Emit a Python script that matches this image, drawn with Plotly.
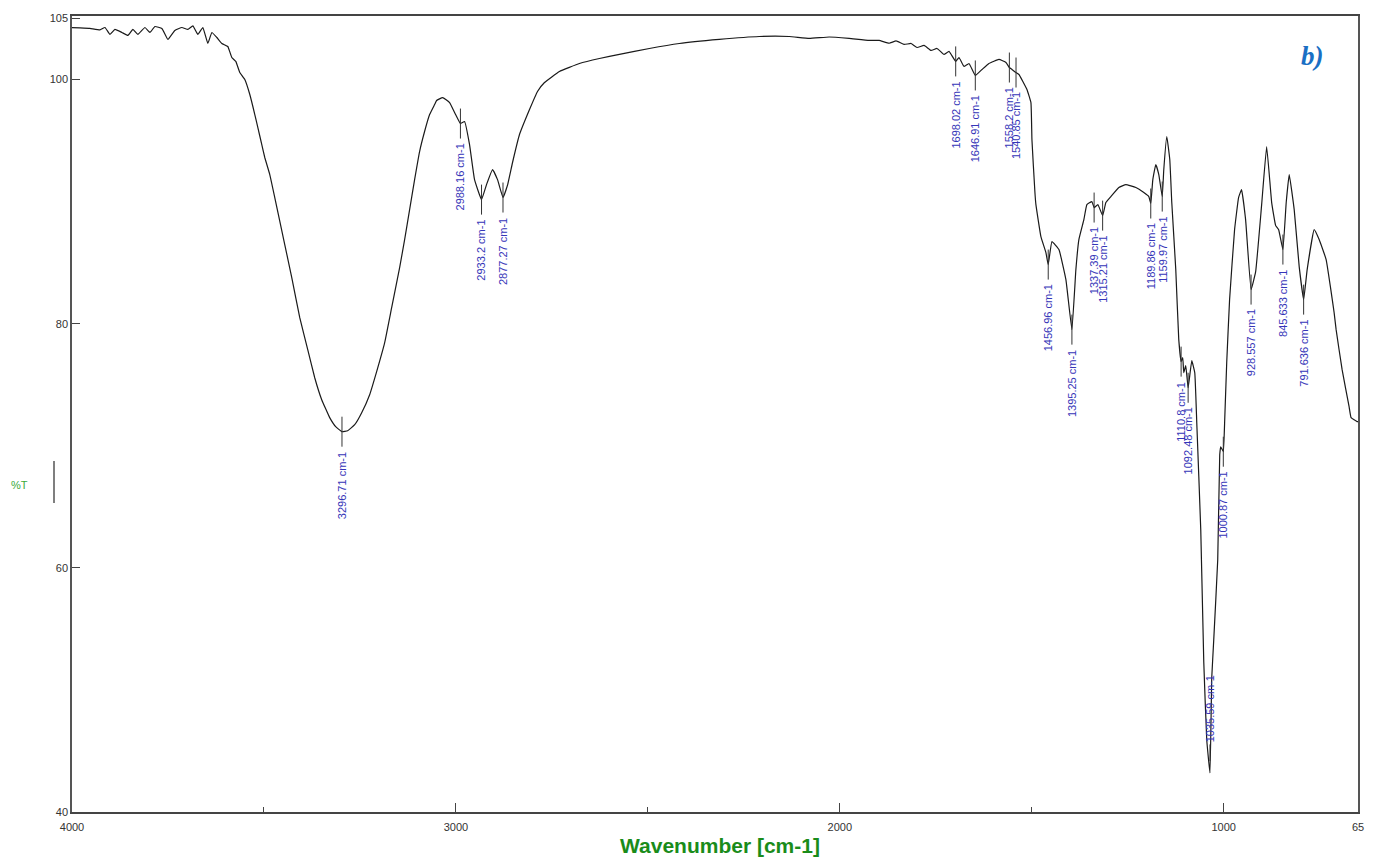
import numpy as np
import plotly.graph_objects as go

# FTIR spectrum: wavenumber (cm-1) and transmittance (%T)
wavenumber = [
    4000, 3979.2, 3953.2, 3927.1, 3914.1, 3901.1, 3888.1, 3869.9, 3854.3, 3841.3,
    3828.3, 3810.0, 3797.0, 3784.0, 3765.8, 3750.2, 3732.0, 3713.8, 3698.2, 3685.1,
    3672.1, 3659.1, 3646.1, 3635.7, 3622.7, 3609.7, 3594.1, 3583.7, 3573.3, 3562.9,
    3549.8, 3536.8, 3523.8, 3516.0, 3505.6, 3497.8, 3484.8, 3471.8, 3445.8, 3427.5,
    3406.7, 3385.9, 3367.7, 3349.5, 3328.7, 3313.1, 3296.71, 3281.9, 3263.6, 3245.4,
    3224.6, 3206.4, 3185.5, 3167.3, 3146.5, 3133.5, 3120.5, 3107.5, 3094.5, 3081.5,
    3068.4, 3055.4, 3050.2, 3034.6, 3016.4,
    3000.8, 2988.16, 2977.4, 2964.4, 2951.4, 2933.2, 2920.2, 2904.5, 2891.5, 2877.27,
    2865.1, 2852.4, 2834.3, 2808.2, 2787.4, 2769.2, 2730.2, 2678.2, 2626.1, 2574.1,
    2496.0, 2418.0, 2313.8, 2209.8, 2131.7, 2079.6, 2027.6, 1975.6, 1923.5, 1897.5,
    1871.4, 1853.2, 1832.4, 1814.2, 1798.6, 1780.4, 1762.2, 1746.6, 1728.4, 1715.4,
    1698.02, 1689.4, 1676.4, 1663.4, 1646.91, 1629.5, 1611.3, 1585.3, 1567.0, 1558.2,
    1551.4, 1540.85, 1533.2, 1512.4, 1502.0, 1499.4, 1491.6, 1489.0, 1476.0, 1463.0,
    1456.96, 1447.3, 1429.1, 1410.9, 1395.25, 1384.9, 1377.1, 1364.1, 1356.3, 1343.3,
    1337.39, 1327.6, 1315.21, 1306.8, 1293.8, 1272.9, 1254.7, 1228.7, 1207.9, 1194.9,
    1189.86, 1184.5, 1176.7, 1168.9, 1159.97, 1155.9, 1148.1, 1140.3, 1135.1, 1124.7,
    1116.9, 1110.8, 1106.5, 1103.9, 1098.7, 1092.48, 1083.0, 1075.2, 1070.0, 1059.6,
    1051.8, 1044.0, 1035.59, 1031.0, 1025.8, 1015.4, 1010.2, 1007.6, 1000.87, 997.2,
    992.0, 984.5, 971.5, 961.1, 953.3, 942.8, 928.557, 916.6, 901.0, 888.0,
    874.9, 864.5, 856.7, 845.633, 837.0, 829.2, 816.2, 803.2, 791.636, 782.4,
    764.2, 751.2, 733.0, 712.2, 707.0, 691.4, 673.2, 668.0, 652.4, 650,
]
transmittance = [
    104.24, 104.22, 104.18, 104.06, 104.26, 103.69, 104.10, 103.85, 103.61, 104.10,
    103.69, 104.26, 103.85, 104.34, 104.18, 103.28, 104.02, 104.26, 104.10, 104.39,
    103.69, 104.26, 102.95, 103.85, 103.44, 102.95, 102.70, 101.80, 101.48, 100.57,
    100.00, 98.77, 97.13, 96.07, 94.67, 93.61, 92.21, 90.33, 86.48, 83.77,
    80.49, 77.87, 75.57, 73.77, 72.30, 71.56, 71.15, 71.23, 71.72, 72.70,
    74.18, 76.07, 78.44, 81.31, 84.59, 86.89, 89.34, 91.80, 94.10, 95.74,
    97.13, 97.95, 98.28, 98.52, 98.11,
    97.13, 96.39, 96.56, 94.67, 91.80, 90.16, 91.39, 92.62, 91.80, 90.33,
    91.39, 93.20, 95.49, 97.54, 99.02, 99.75, 100.66, 101.31, 101.72, 102.05,
    102.54, 102.95, 103.28, 103.52, 103.52, 103.36, 103.48, 103.36, 103.20, 103.20,
    102.97, 103.16, 102.87, 102.95, 102.62, 102.79, 102.38, 102.54, 102.05, 102.30,
    101.48, 101.80, 101.07, 101.31, 100.33, 100.82, 101.31, 101.64, 101.39, 100.98,
    100.82, 100.57, 100.41, 99.18, 98.11, 95.08, 90.74, 89.75, 87.13, 85.82,
    84.84, 86.72, 86.07, 83.61, 79.51, 84.43, 86.89, 88.52, 89.75, 90.00,
    89.51, 89.75, 88.85, 89.92, 90.41, 91.15, 91.39, 91.15, 90.74, 90.41,
    89.84, 91.80, 93.03, 92.21, 90.41, 92.62, 95.33, 93.44, 89.92, 84.43,
    78.69, 76.89, 77.21, 75.98, 76.56, 74.75, 76.97, 75.98, 71.89, 63.11,
    52.30, 45.90, 43.20, 50.98, 54.10, 60.66, 69.26, 69.92, 69.51, 72.13,
    76.80, 81.97, 87.70, 90.33, 90.98, 88.52, 82.79, 84.26, 89.75, 94.51,
    89.92, 88.03, 87.70, 86.07, 89.92, 92.21, 89.34, 84.67, 81.97, 84.43,
    87.70, 86.89, 85.25, 80.90, 79.51, 76.23, 73.20, 72.30, 71.97, 71.97,
]

# Labelled band positions (cm-1)
peak_wavenumbers = [
    3296.71, 2988.16, 2933.2, 2877.27, 1698.02, 1646.91, 1558.2, 1540.85,
    1456.96, 1395.25, 1337.39, 1315.21, 1189.86, 1159.97, 1110.8, 1092.48,
    1035.59, 1000.87, 928.557, 845.633, 791.636,
]

x_tick_values = [4000, 3000, 2000, 1000, 650]
x_tick_text = ["4000", "3000", "2000", "1000", "65"]
x_minor_ticks = [3500, 2500, 1500]
y_tick_values = [40, 60, 80, 100, 105]

# Layout geometry
W, H = 1379, 862
M_L, M_R, M_T, M_B = 72, 21, 16, 50
Y_MIN, Y_MAX = 40, 105.2
plot_h = H - M_T - M_B
plot_w = W - M_L - M_R
px_per_unit = plot_h / (Y_MAX - Y_MIN)

label_color = "#3535b8"
tick_color = "#333333"

fig = go.Figure()
fig.add_trace(go.Scatter(
    x=wavenumber, y=transmittance, mode="lines",
    line=dict(color="#1a1a1a", width=1.2, shape="spline", smoothing=0.3),
    hoverinfo="x+y", showlegend=False,
))

# Band markers: short vertical tick at each band and a rotated label
order = np.argsort(wavenumber)
wn_sorted = np.asarray(wavenumber)[order]
t_sorted = np.asarray(transmittance)[order]
half = 15 / px_per_unit
gap = 3 / px_per_unit

tick_x, tick_y = [], []
for wn in peak_wavenumbers:
    t = float(np.interp(wn, wn_sorted, t_sorted))
    text = f"{wn:g} cm-1"
    if t - 8 < Y_MIN:
        # not enough room below the band: label goes above it
        y0, y1 = t + half * 0.8, t + half * 1.9
        fig.add_annotation(x=wn, y=y1 + gap * 0.2, text=text, textangle=-90,
                           showarrow=False, xanchor="center", yanchor="bottom",
                           font=dict(family="Liberation Sans, Arial, sans-serif",
                                     size=11, color=label_color))
    else:
        y0, y1 = t + half, t - half
        fig.add_annotation(x=wn, y=y1 - gap, text=text, textangle=-90,
                           showarrow=False, xanchor="center", yanchor="top",
                           font=dict(family="Liberation Sans, Arial, sans-serif",
                                     size=11, color=label_color))
    tick_x += [wn, wn, None]
    tick_y += [y0, y1, None]

fig.add_trace(go.Scatter(
    x=tick_x, y=tick_y, mode="lines", line=dict(color=tick_color, width=1),
    hoverinfo="skip", showlegend=False,
))

axis_font = dict(family="Liberation Sans, Arial, sans-serif", size=11, color="#333333")

fig.update_layout(
    width=W, height=H,
    margin=dict(l=M_L, r=M_R, t=M_T, b=M_B),
    paper_bgcolor="white", plot_bgcolor="white",
    xaxis=dict(
        range=[4000, 650], tickvals=x_tick_values, ticktext=x_tick_text,
        ticks="inside", ticklen=9, tickwidth=1, tickcolor="#444",
        minor=dict(tickvals=x_minor_ticks, ticks="inside", ticklen=5,
                   tickwidth=1, tickcolor="#444"),
        showline=True, linecolor="#444", linewidth=1.5, mirror=True,
        showgrid=False, zeroline=False, tickfont=axis_font,
        ticklabelstandoff=4,
    ),
    yaxis=dict(
        range=[Y_MIN, Y_MAX], tickvals=y_tick_values,
        ticks="inside", ticklen=8, tickwidth=1, tickcolor="#444",
        showline=True, linecolor="#555", linewidth=1.5, mirror=True,
        showgrid=False, zeroline=False, tickfont=axis_font,
    ),
)

# Axis titles and panel tag
fig.add_annotation(
    xref="paper", yref="paper",
    x=(720 - M_L) / plot_w, y=(H - M_B - 845) / plot_h,
    text="<b>Wavenumber [cm-1]</b>", showarrow=False,
    xanchor="center", yanchor="middle",
    font=dict(family="Liberation Sans Narrow, Arial Narrow, Liberation Sans, sans-serif",
              size=21, color="#1a8c1a"),
)
fig.add_annotation(
    xref="paper", yref="paper",
    x=(19 - M_L) / plot_w, y=(H - M_B - 485) / plot_h,
    text="%T", showarrow=False, xanchor="center", yanchor="middle",
    font=dict(family="Liberation Sans, Arial, sans-serif", size=11, color="#3aaa3a"),
)
fig.add_annotation(
    xref="paper", yref="paper",
    x=(1312 - M_L) / plot_w, y=(H - M_B - 56) / plot_h,
    text="<b><i>b)</i></b>", showarrow=False, xanchor="center", yanchor="middle",
    font=dict(family="Liberation Serif, Times New Roman, serif", size=27, color="#1a6fc4"),
)
# small marker bar left of the y axis
fig.add_shape(
    type="line", xref="paper", yref="paper",
    x0=(54 - M_L) / plot_w, x1=(54 - M_L) / plot_w,
    y0=(H - M_B - 461) / plot_h, y1=(H - M_B - 503) / plot_h,
    line=dict(color="#555555", width=1.5),
)

fig.write_html("out.html")
